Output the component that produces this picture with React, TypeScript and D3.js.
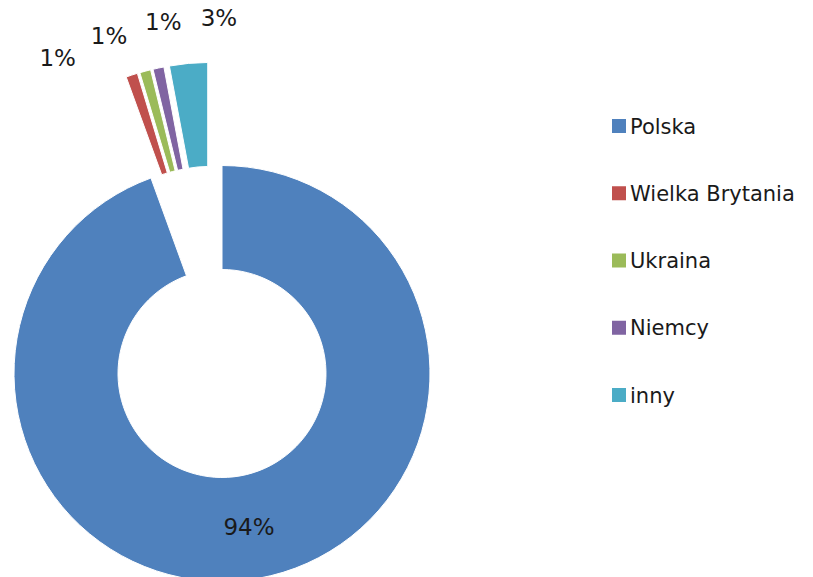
import React from "react";
import * as d3 from "d3";

const categories = ["Polska", "Wielka Brytania", "Ukraina", "Niemcy", "inny"];
const values = [94.45, 0.9, 0.85, 0.85, 2.95];
const colors = ["#4F81BD", "#C0504D", "#9BBB59", "#8064A2", "#4BACC6"];
const exploded = [false, true, true, true, true];

const W = 813;
const H = 577;
const cx = 222;
const cy = 373.5;
const outerR = 208;
const innerR = 104;
const explodeDist = 104;
const labelR = 356;
const labelSpacing = 9; // degrees
const labelBias = -4; // degrees

export default function App() {
  const total = d3.sum(values);
  const pie = d3.pie<number>().sort(null).value((d) => d)(values);
  const arc = d3.arc<d3.PieArcDatum<number>>().innerRadius(innerR).outerRadius(outerR);

  const expl = pie.filter((_, i) => exploded[i]);
  const gStart = d3.min(expl, (d) => d.startAngle)!;
  const gEnd = d3.max(expl, (d) => d.endAngle)!;
  const groupMid = (gStart + gEnd) / 2;
  const toRad = Math.PI / 180;

  const fmt = (v: number) => `${Math.round((v / total) * 100)}%`;

  const slices = pie.map((d, i) => {
    let tx = 0, ty = 0;
    if (exploded[i]) {
      const mid = (d.startAngle + d.endAngle) / 2;
      const dir = groupMid + 0.45 * (mid - groupMid);
      tx = explodeDist * Math.sin(dir);
      ty = -explodeDist * Math.cos(dir);
    }
    return { d, i, tx, ty };
  });

  const n = expl.length;
  const labels = pie.map((d, i) => {
    if (exploded[i]) {
      const k = expl.indexOf(d);
      const a = groupMid + ((k - (n - 1) / 2) * labelSpacing + labelBias) * toRad;
      return { x: cx + labelR * Math.sin(a), y: cy - labelR * Math.cos(a), text: fmt(d.value) };
    }
    const [x, y] = arc.centroid(d);
    return { x: cx + x, y: cy + y, text: fmt(d.value) };
  });

  const legendX = 612;
  const legendY0 = 119;
  const legendStep = 67.25;
  const sq = 14;

  return (
    <svg
      width={W}
      height={H}
      style={{ position: "absolute", left: 0, top: 0, background: "#fff" }}
      fontFamily="'DejaVu Sans', sans-serif"
    >
      <g transform={`translate(${cx},${cy})`}>
        {slices.map(({ d, i, tx, ty }) => (
          <path
            key={categories[i]}
            d={arc(d) || ""}
            transform={`translate(${tx},${ty})`}
            fill={colors[i]}
            stroke="#fff"
            strokeWidth={1}
          />
        ))}
      </g>
      {labels.map((l, i) => (
        <text
          key={"l" + i}
          x={l.x}
          y={l.y}
          textAnchor="middle"
          dominantBaseline="central"
          fontSize={23}
          fill="#1a1a1a"
        >
          {l.text}
        </text>
      ))}
      {categories.map((c, i) => (
        <g key={"lg" + c} transform={`translate(${legendX},${legendY0 + i * legendStep})`}>
          <rect width={sq} height={sq} fill={colors[i]} />
          <text x={sq + 4} y={sq / 2 + 7.5} fontSize={21} fill="#1a1a1a">
            {c}
          </text>
        </g>
      ))}
    </svg>
  );
}
